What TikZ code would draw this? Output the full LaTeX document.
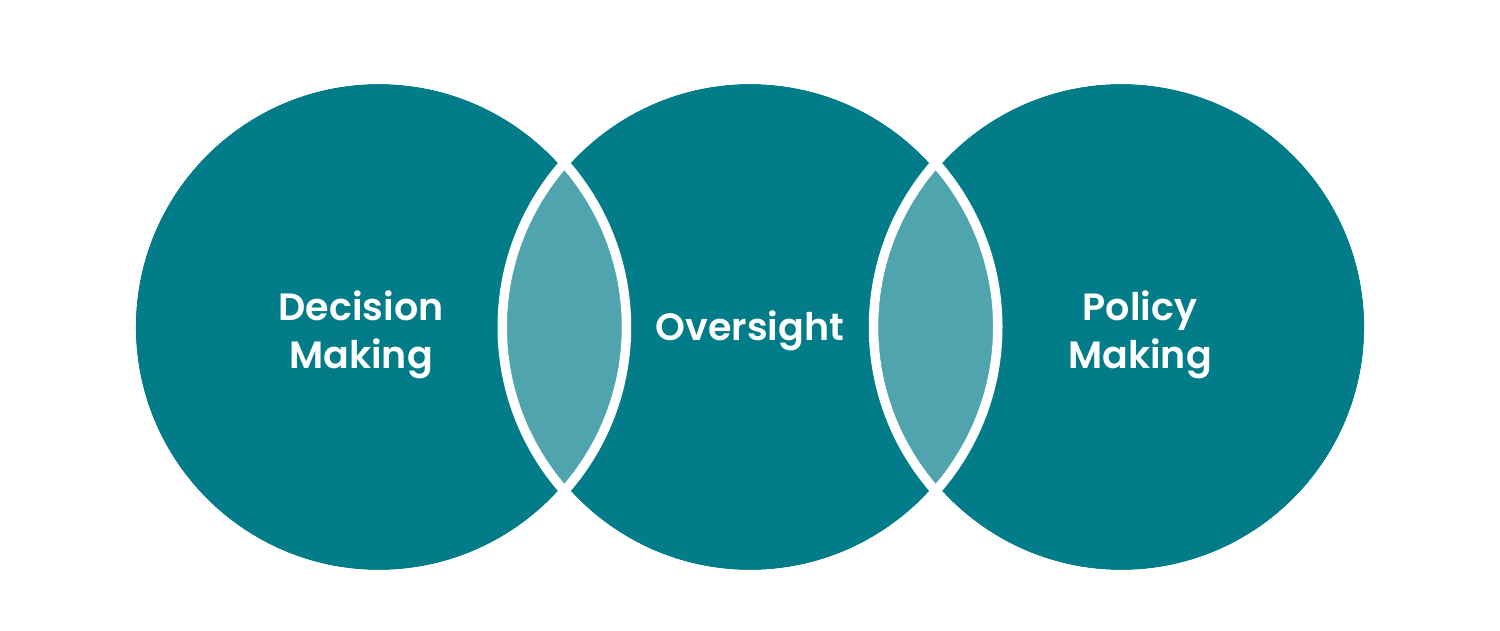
\documentclass[tikz,border=0pt]{standalone}
\usepackage{fontspec}
\setmainfont{Poppins}
\newfontfamily\labelfont{Poppins SemiBold}
\usetikzlibrary{positioning}
\definecolor{tealdark}{HTML}{027C88}
\definecolor{teallight}{HTML}{50A4AE}
\tikzset{
  circlabel/.style={text=white,align=center,font=\labelfont\fontsize{38}{48}\selectfont},
  gapring/.style={draw=white,line width=9.5pt}
}

\begin{document}
\begin{tikzpicture}[x=1pt,y=1pt]
\useasboundingbox (0,0) rectangle (1500,630);

\coordinate (cdec) at (378.7,303);
\coordinate (covs) at (750,303);
\coordinate (cpol) at (1121.3,303);

% the three circles
\fill[tealdark] (cdec) circle (243);
\fill[tealdark] (covs) circle (243);
\fill[tealdark] (cpol) circle (243);

% overlaps
\begin{scope}
\clip (cdec) circle (243);
\fill[teallight] (covs) circle (243);
\end{scope}
\begin{scope}
\clip (cpol) circle (243);
\fill[teallight] (covs) circle (243);
\end{scope}

% white gaps round the overlaps
\begin{scope}
\clip (0,0) rectangle (1500,630);
\draw[gapring] (cdec) circle (247.75);
\draw[gapring] (covs) circle (247.75);
\draw[gapring] (cpol) circle (247.75);
\end{scope}

\node[circlabel] (dec) at (361,295) {Decision\\Making};
\node[circlabel] (ovs) at (750,299) {Oversight};
\node[circlabel] (pol) at (1140,295) {Policy\\Making};

\end{tikzpicture}
\end{document}
